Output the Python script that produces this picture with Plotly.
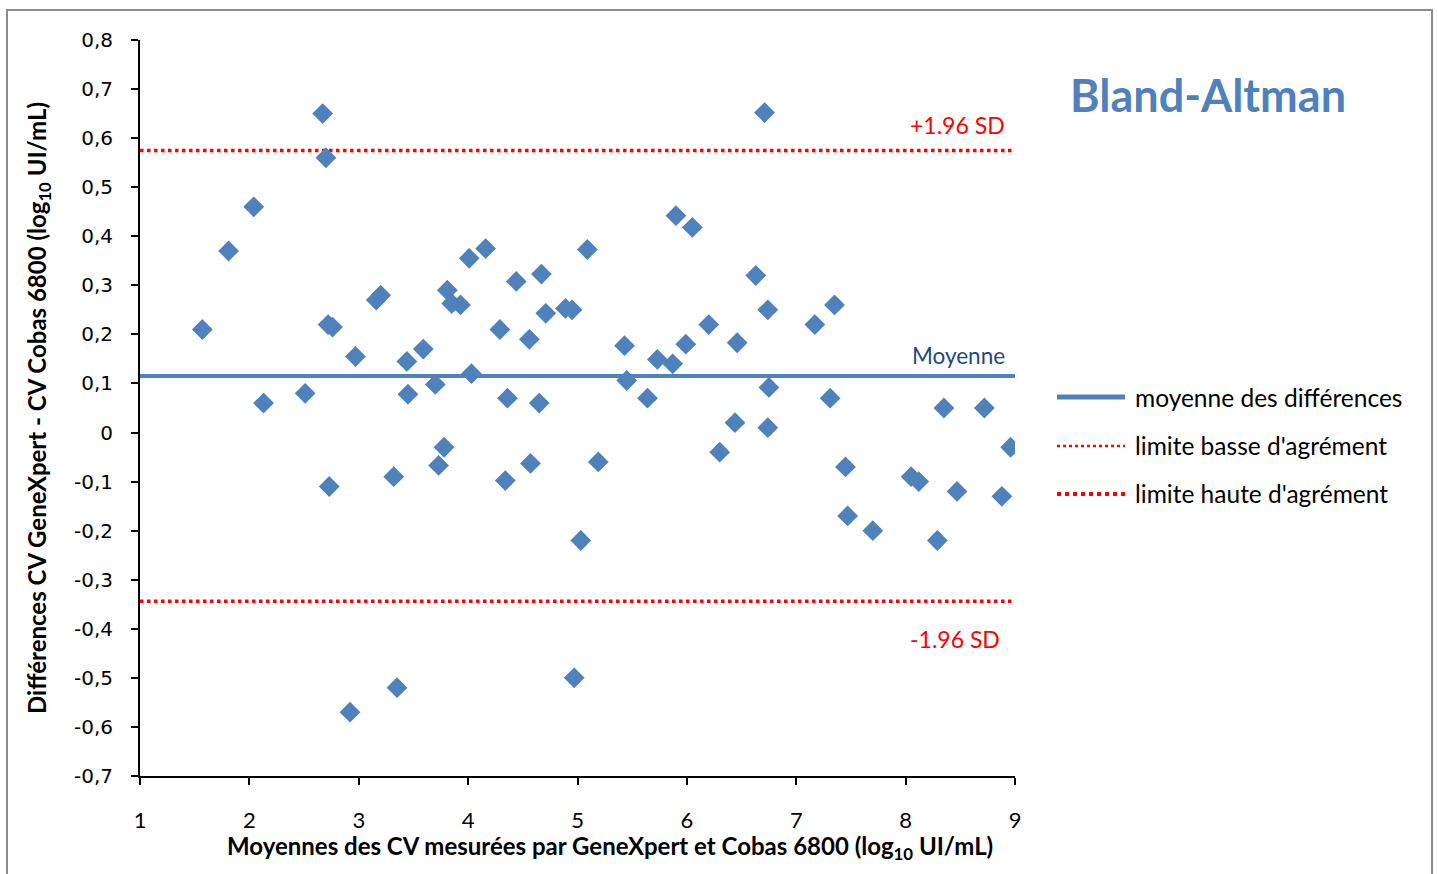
import plotly.graph_objects as go

# Bland-Altman: mean of the two methods (x) vs difference (y), log10 UI/mL
moyennes = [1.57, 1.81, 2.04, 2.13, 2.51, 2.67, 2.70, 2.72, 2.76, 2.73,
            2.92, 2.97, 3.16, 3.20, 3.32, 3.35, 3.44, 3.45, 3.59, 3.70,
            3.73, 3.78, 3.81, 3.85, 3.93, 4.01, 4.03, 4.16, 4.29, 4.34,
            4.36, 4.44, 4.56, 4.57, 4.65, 4.67, 4.71, 4.89, 4.95, 4.97,
            5.03, 5.09, 5.19, 5.43, 5.45, 5.64, 5.73, 5.87, 5.90, 5.99,
            6.05, 6.20, 6.30, 6.44, 6.46, 6.63, 6.71, 6.74, 6.75, 6.74,
            7.17, 7.31, 7.35, 7.45, 7.47, 7.70, 8.05, 8.12, 8.29, 8.35,
            8.47, 8.72, 8.88, 8.96]
differences = [0.21, 0.37, 0.46, 0.06, 0.08, 0.65, 0.56, 0.22, 0.215, -0.11,
               -0.57, 0.155, 0.27, 0.28, -0.09, -0.52, 0.145, 0.078, 0.17, 0.098,
               -0.067, -0.03, 0.29, 0.263, 0.26, 0.355, 0.12, 0.375, 0.21, -0.098,
               0.07, 0.308, 0.19, -0.063, 0.06, 0.323, 0.243, 0.253, 0.25, -0.50,
               -0.22, 0.373, -0.06, 0.177, 0.106, 0.07, 0.149, 0.14, 0.442, 0.18,
               0.418, 0.22, -0.04, 0.02, 0.183, 0.32, 0.652, 0.25, 0.092, 0.01,
               0.22, 0.07, 0.26, -0.07, -0.17, -0.20, -0.09, -0.10, -0.22, 0.05,
               -0.12, 0.05, -0.13, -0.03]

moyenne_diff = 0.115
limite_basse = -0.344
limite_haute = 0.575
x_lim = [1, 9]

y_ticks = [0.8, 0.7, 0.6, 0.5, 0.4, 0.3, 0.2, 0.1, 0, -0.1, -0.2, -0.3, -0.4, -0.5, -0.6, -0.7]
y_labels = ["0,8", "0,7", "0,6", "0,5", "0,4", "0,3", "0,2", "0,1", "0",
            "-0,1", "-0,2", "-0,3", "-0,4", "-0,5", "-0,6", "-0,7"]
x_ticks = [1, 2, 3, 4, 5, 6, 7, 8, 9]

legend_names = ["moyenne des différences", "limite basse d'agrément", "limite haute d'agrément"]

BLUE = "#4F81BD"
RED = "#FF0000"
TXT = "Lato, 'Open Sans', sans-serif"

fig = go.Figure()

# reference lines
fig.add_trace(go.Scatter(x=x_lim, y=[moyenne_diff] * 2, mode="lines",
                         line=dict(color=BLUE, width=4), showlegend=False, hoverinfo="skip"))
fig.add_trace(go.Scatter(x=x_lim, y=[limite_basse] * 2, mode="lines",
                         line=dict(color=RED, width=3.5, dash="dot"), showlegend=False, hoverinfo="skip"))
fig.add_trace(go.Scatter(x=x_lim, y=[limite_haute] * 2, mode="lines",
                         line=dict(color=RED, width=3.5, dash="dot"), showlegend=False, hoverinfo="skip"))

# points
fig.add_trace(go.Scatter(x=moyennes, y=differences, mode="markers",
                         marker=dict(symbol="diamond", size=16, color=BLUE),
                         showlegend=False))

# manual legend (long keys like the original)
leg_x0, leg_x1, leg_tx = 1.048, 1.1257, 1.1349
leg_y = [0.5149, 0.4484, 0.3832]
leg_style = [dict(color=BLUE, width=5), dict(color=RED, width=2.5, dash="dot"),
             dict(color=RED, width=4, dash="dot")]
for name, yy, st in zip(legend_names, leg_y, leg_style):
    fig.add_shape(type="line", xref="paper", yref="paper", x0=leg_x0, x1=leg_x1,
                  y0=yy, y1=yy, line=st)
    fig.add_annotation(xref="paper", yref="paper", x=leg_tx, y=yy, text=name,
                       showarrow=False, xanchor="left", yanchor="middle",
                       font=dict(family=TXT, size=24.5, color="black"))

# chart area border
fig.add_shape(type="rect", xref="paper", yref="paper", x0=-0.152, x1=1.4766,
              y0=-0.16, y1=1.0408, line=dict(color="#8C8C8C", width=2))

# line labels
fig.add_annotation(x=8.927, y=limite_haute, text="+1.96 SD", showarrow=False,
                   xanchor="right", yanchor="bottom", yshift=9,
                   font=dict(family=TXT, size=23, color=RED))
fig.add_annotation(x=8.927, y=moyenne_diff, text="Moyenne", showarrow=False,
                   xanchor="right", yanchor="bottom", yshift=5,
                   font=dict(family=TXT, size=22.5, color="#1F497D"))
fig.add_annotation(x=8.88, y=limite_basse, text="-1.96 SD", showarrow=False,
                   xanchor="right", yanchor="top", yshift=-22,
                   font=dict(family=TXT, size=23, color=RED))

fig.add_annotation(xref="paper", yref="paper", x=1.2206, y=0.9253, text="<b>Bland-Altman</b>",
                   showarrow=False, xanchor="center", yanchor="middle",
                   font=dict(family=TXT, size=45, color=BLUE))

# axis titles
fig.add_annotation(xref="paper", yref="paper", x=-0.1166, y=0.5, textangle=-90,
                   text="<b>Différences CV GeneXpert - CV Cobas 6800 (log<sub>10</sub> UI/mL)</b>",
                   showarrow=False, xanchor="center", yanchor="middle",
                   font=dict(family=TXT, size=24, color="black"))
fig.add_annotation(xref="paper", yref="paper", x=0.537, y=-0.0978,
                   text="<b>Moyennes des CV mesurées par GeneXpert et Cobas 6800 (log<sub>10</sub> UI/mL)</b>",
                   showarrow=False, xanchor="center", yanchor="middle",
                   font=dict(family=TXT, size=24, color="black"))

fig.update_xaxes(range=x_lim, tickvals=x_ticks, ticks="outside", ticklen=7, tickwidth=2,
                 tickcolor="black", showline=True, linecolor="black", linewidth=2,
                 showgrid=False, zeroline=False, ticklabelstandoff=17,
                 tickfont=dict(family=TXT, size=22, color="black"))
fig.update_yaxes(range=[-0.7, 0.8], tickvals=y_ticks, ticktext=y_labels, ticks="outside",
                 ticklen=7, tickwidth=2, tickcolor="black", showline=True, linecolor="black",
                 linewidth=2, showgrid=False, zeroline=False, ticklabelstandoff=14,
                 tickfont=dict(family="DejaVu Sans", size=20, color="black"))

fig.update_layout(width=1438, height=874, paper_bgcolor="white", plot_bgcolor="white",
                  margin=dict(l=140, r=423, t=40, b=98), showlegend=False)

fig.write_html("out.html", config={"displayModeBar": False},
               post_script="document.body.style.margin='0';")
